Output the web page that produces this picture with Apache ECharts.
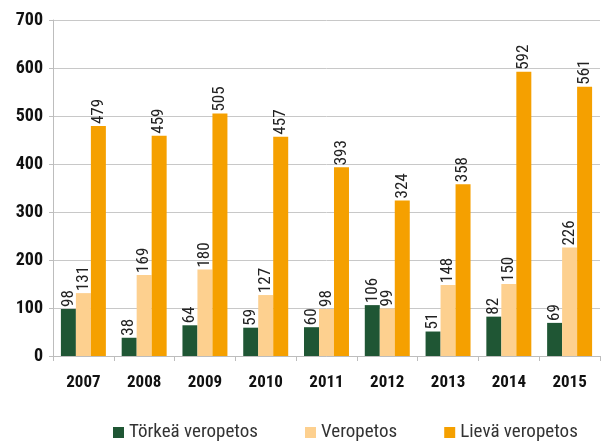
<!DOCTYPE html>
<html>
<head>
<meta charset="utf-8">
<script src="https://cdn.jsdelivr.net/npm/echarts@6/dist/echarts.min.js"></script>
<style>
  html, body { margin: 0; padding: 0; background: #fff; }
  #chart { width: 601px; height: 448px; }
</style>
</head>
<body>
<div id="chart"></div>
<script>
const years = ['2007', '2008', '2009', '2010', '2011', '2012', '2013', '2014', '2015'];
const torkea = [98, 38, 64, 59, 60, 106, 51, 82, 69];
const veropetos = [131, 169, 180, 127, 98, 99, 148, 150, 226];
const lieva = [479, 459, 505, 457, 393, 324, 358, 592, 561];
const seriesNames = ['Törkeä veropetos', 'Veropetos', 'Lievä veropetos'];
const colors = ['#1f5634', '#fdd08f', '#f5a000'];

const narrow = '"Liberation Sans Narrow", "Roboto Condensed", "DejaVu Sans Condensed", sans-serif';

const chart = echarts.init(document.getElementById('chart'));

function barSeries(name, data, color) {
    return {
        name: name,
        type: 'bar',
        data: data,
        barGap: '0%',
        barCategoryGap: '26%',
        itemStyle: { color: color },
        label: {
            show: true,
            position: 'top',
            rotate: 90,
            align: 'left',
            verticalAlign: 'middle',
            distance: 2,
            color: '#222',
            fontSize: 17,
            fontFamily: narrow
        }
    };
}

const option = {
    animation: false,
    grid: { left: 53, right: 1, top: 20, bottom: 92 },
    legend: {
        bottom: 1,
        left: 108,
        itemWidth: 11,
        itemHeight: 11,
        itemGap: 47,
        icon: 'rect',
        textStyle: { fontSize: 19, color: '#333', fontFamily: narrow }
    },
    xAxis: {
        type: 'category',
        data: years,
        axisLine: { lineStyle: { color: '#bdbdbd' } },
        axisTick: { show: true, length: 5, lineStyle: { color: '#bdbdbd' } },
        axisLabel: {
            color: '#111',
            fontSize: 17,
            fontWeight: 'bold',
            fontFamily: narrow,
            margin: 18
        }
    },
    yAxis: {
        type: 'value',
        min: 0,
        max: 700,
        interval: 100,
        axisLine: { show: true, lineStyle: { color: '#bdbdbd' } },
        axisTick: { show: true, length: 4, lineStyle: { color: '#bdbdbd' } },
        splitLine: { lineStyle: { color: '#c8c8c8' } },
        axisLabel: {
            color: '#111',
            fontSize: 18,
            fontWeight: 'bold',
            fontFamily: narrow,
            margin: 10
        }
    },
    series: [
        barSeries(seriesNames[0], torkea, colors[0]),
        barSeries(seriesNames[1], veropetos, colors[1]),
        barSeries(seriesNames[2], lieva, colors[2])
    ]
};

chart.setOption(option);
</script>
</body>
</html>
